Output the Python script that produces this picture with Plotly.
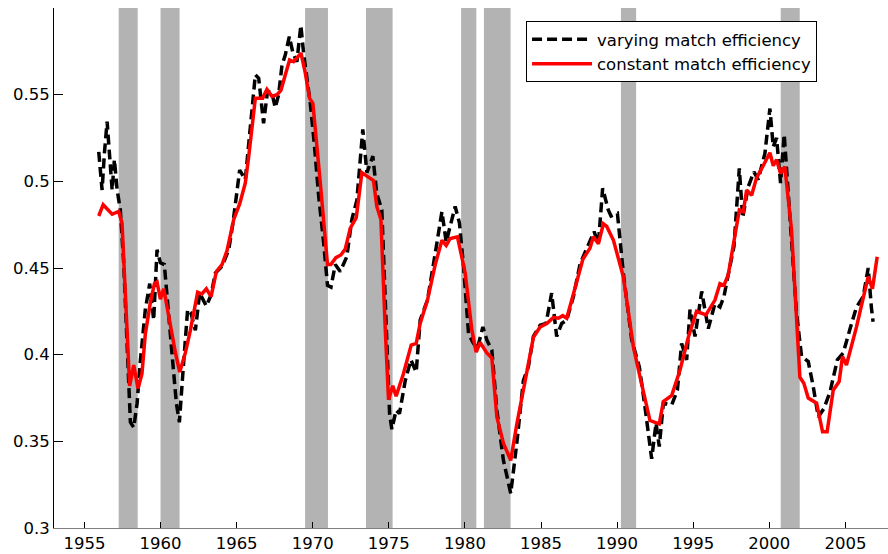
import plotly.graph_objects as go

# Recession periods (start, end) in decimal years
recession_start = [1957.25, 1960.0, 1969.5, 1973.5, 1979.75, 1981.25, 1990.25, 2000.75]
recession_end = [1958.5, 1961.25, 1971.0, 1975.25, 1980.75, 1983.0, 1991.25, 2002.0]

# Varying match efficiency series
vary_year = [1955.94, 1956.16, 1956.31, 1956.49, 1956.66, 1956.82, 1956.97, 1957.15, 1957.36, 1957.58,
             1957.8, 1958.02, 1958.24, 1958.46, 1958.68, 1959.0, 1959.29, 1959.55, 1959.77, 1959.99,
             1960.25, 1960.43, 1960.75, 1961.04, 1961.24, 1961.48, 1961.78, 1962.0, 1962.29, 1962.57,
             1963.01, 1963.32, 1963.6, 1964.04, 1964.48, 1964.76, 1965.2, 1965.57, 1965.9, 1966.23,
             1966.45, 1966.77, 1967.03, 1967.32, 1967.54, 1967.76, 1967.98, 1968.2, 1968.46, 1968.7,
             1968.96, 1969.22, 1969.4, 1969.62, 1969.84, 1970.1, 1970.39, 1970.72, 1970.97, 1971.2,
             1971.48, 1971.81, 1972.24, 1972.57, 1972.9, 1973.29, 1973.56, 1973.95, 1974.21, 1974.54,
             1974.83, 1975.05, 1975.2, 1975.48, 1975.7, 1976.08, 1976.45, 1976.8, 1977.06, 1977.54,
             1978.05, 1978.49, 1978.77, 1979.36, 1979.64, 1979.91, 1980.24, 1980.56, 1980.82, 1981.18,
             1981.44, 1981.77, 1982.1, 1982.53, 1983.01, 1983.41, 1983.84, 1984.17, 1984.5, 1984.94,
             1985.33, 1985.7, 1986.03, 1986.36, 1986.69, 1987.13, 1987.57, 1988.0, 1988.49, 1988.77,
             1989.05, 1989.42, 1989.6, 1990.02, 1990.41, 1990.96, 1991.46, 1991.83, 1992.27, 1992.56,
             1992.77, 1993.04, 1993.59, 1993.96, 1994.24, 1994.57, 1994.79, 1995.12, 1995.56, 1995.99,
             1996.43, 1996.76, 1997.02, 1997.3, 1997.68, 1998.03, 1998.25, 1998.62, 1998.99, 1999.27,
             1999.71, 2000.04, 2000.26, 2000.48, 2000.74, 2000.98, 2001.17, 2001.46, 2001.79, 2002.12,
             2002.56, 2002.89, 2003.22, 2003.59, 2003.99, 2004.47, 2004.86, 2005.34, 2005.73, 2006.17,
             2006.5, 2006.71, 2006.82]
vary_value = [0.517, 0.495, 0.516, 0.5345, 0.514, 0.495, 0.5125, 0.495, 0.4835, 0.453,
              0.4065, 0.361, 0.358, 0.372, 0.397, 0.426, 0.441, 0.420, 0.4605, 0.453,
              0.452, 0.4315, 0.401, 0.372, 0.361, 0.391, 0.426, 0.424, 0.414, 0.4355,
              0.428, 0.4345, 0.447, 0.451, 0.4605, 0.476, 0.5065, 0.501, 0.5335, 0.5615,
              0.5595, 0.5335, 0.552, 0.551, 0.5425, 0.550, 0.567, 0.573, 0.5835, 0.574,
              0.569, 0.590, 0.574, 0.5605, 0.545, 0.522, 0.4915, 0.4645, 0.440, 0.439,
              0.452, 0.448, 0.4565, 0.478, 0.489, 0.530, 0.505, 0.5145, 0.493, 0.4835,
              0.416, 0.366, 0.357, 0.368, 0.366, 0.385, 0.397, 0.390, 0.420, 0.4315,
              0.4585, 0.4825, 0.465, 0.4855, 0.476, 0.451, 0.412, 0.4065, 0.4035, 0.416,
              0.4085, 0.4025, 0.368, 0.339, 0.320, 0.349, 0.385, 0.393, 0.4105, 0.417,
              0.418, 0.4355, 0.4105, 0.418, 0.420, 0.4335, 0.4525, 0.4615, 0.471, 0.464,
              0.496, 0.4835, 0.480, 0.4815, 0.447, 0.4085, 0.393, 0.370, 0.340, 0.3605,
              0.347, 0.372, 0.371, 0.3795, 0.4065, 0.397, 0.426, 0.4105, 0.4365, 0.415,
              0.4295, 0.4275, 0.4335, 0.446, 0.4625, 0.5075, 0.479, 0.497, 0.5055, 0.501,
              0.516, 0.542, 0.520, 0.525, 0.499, 0.527, 0.501, 0.4625, 0.424, 0.399,
              0.396, 0.3815, 0.364, 0.369, 0.3785, 0.397, 0.401, 0.416, 0.4275, 0.4335,
              0.450, 0.427, 0.419]

# Constant match efficiency series
const_year = [1955.94, 1956.23, 1956.82, 1957.25, 1957.47, 1957.76, 1957.97, 1958.24, 1958.52, 1958.78,
              1959.0, 1959.33, 1959.6, 1959.77, 1959.99, 1960.21, 1960.65, 1960.98, 1961.26, 1961.63,
              1961.96, 1962.44, 1962.72, 1963.01, 1963.32, 1963.67, 1964.04, 1964.37, 1964.81, 1965.2,
              1965.57, 1965.79, 1966.23, 1966.71, 1966.99, 1967.32, 1967.65, 1967.91, 1968.2, 1968.48,
              1968.74, 1969.01, 1969.23, 1969.51, 1969.79, 1970.01, 1970.28, 1970.5, 1970.97, 1971.19,
              1971.52, 1971.85, 1972.14, 1972.47, 1972.86, 1973.23, 1973.56, 1973.99, 1974.21, 1974.48,
              1974.76, 1974.98, 1975.26, 1975.48, 1975.96, 1976.47, 1976.8, 1977.06, 1977.54, 1978.05,
              1978.49, 1978.77, 1979.03, 1979.51, 1980.02, 1980.46, 1980.74, 1981.0, 1981.44, 1981.77,
              1982.1, 1982.53, 1983.01, 1983.41, 1983.96, 1984.5, 1984.94, 1985.38, 1985.82, 1986.14,
              1986.43, 1986.69, 1987.13, 1987.75, 1988.22, 1988.44, 1988.77, 1989.1, 1989.32, 1989.76,
              1990.41, 1991.07, 1991.51, 1992.16, 1992.77, 1993.04, 1993.59, 1994.13, 1994.68, 1995.22,
              1995.84, 1996.43, 1996.76, 1997.02, 1997.3, 1997.74, 1998.03, 1998.29, 1998.51, 1998.84,
              1999.16, 1999.6, 2000.04, 2000.26, 2000.48, 2000.74, 2001.02, 2001.46, 2002.01, 2002.27,
              2002.56, 2003.11, 2003.5, 2003.8, 2004.2, 2004.59, 2004.81, 2005.07, 2005.73, 2006.5,
              2006.78, 2007.09]
const_value = [0.480, 0.4865, 0.481, 0.4826, 0.476, 0.416, 0.382, 0.394, 0.3805, 0.389,
               0.412, 0.430, 0.441, 0.442, 0.432, 0.438, 0.416, 0.401, 0.390, 0.401,
               0.414, 0.436, 0.435, 0.438, 0.4335, 0.448, 0.452, 0.460, 0.478, 0.487,
               0.499, 0.514, 0.548, 0.548, 0.553, 0.549, 0.550, 0.5525, 0.5615, 0.570,
               0.569, 0.572, 0.574, 0.5625, 0.548, 0.545, 0.522, 0.499, 0.452, 0.452,
               0.456, 0.4575, 0.461, 0.473, 0.479, 0.505, 0.503, 0.5005, 0.4855, 0.478,
               0.416, 0.374, 0.382, 0.376, 0.389, 0.4055, 0.4065, 0.418, 0.4315, 0.452,
               0.466, 0.463, 0.467, 0.468, 0.447, 0.414, 0.4015, 0.407, 0.401, 0.398,
               0.364, 0.349, 0.339, 0.360, 0.385, 0.410, 0.416, 0.418, 0.4215, 0.421,
               0.4225, 0.421, 0.435, 0.455, 0.4615, 0.468, 0.464, 0.4755, 0.474, 0.466,
               0.445, 0.4045, 0.387, 0.362, 0.360, 0.373, 0.3765, 0.391, 0.410, 0.425,
               0.423, 0.4315, 0.441, 0.440, 0.446, 0.468, 0.4835, 0.4825, 0.495, 0.492,
               0.502, 0.509, 0.5165, 0.509, 0.5125, 0.5045, 0.5085, 0.472, 0.387, 0.3835,
               0.375, 0.372, 0.3555, 0.3555, 0.3795, 0.3845, 0.399, 0.394, 0.416, 0.445,
               0.438, 0.4565]

FONT = "DejaVu Sans, Liberation Sans, Arial, sans-serif"

fig = go.Figure()

fig.add_trace(go.Scatter(
    x=vary_year, y=vary_value, mode="lines",
    name="varying match efficiency",
    line=dict(color="black", width=3.5, dash="10px,5px"),
))
fig.add_trace(go.Scatter(
    x=const_year, y=const_value, mode="lines",
    name="constant match efficiency",
    line=dict(color="#ff0000", width=3.5),
))

# Shaded recession bands
for x0, x1 in zip(recession_start, recession_end):
    fig.add_shape(type="rect", xref="x", yref="paper", x0=x0, x1=x1, y0=0, y1=1,
                  fillcolor="#b3b3b3", line=dict(width=0), layer="below")

fig.update_layout(
    width=888, height=554,
    margin=dict(l=54, r=0, t=8, b=26, pad=0),
    paper_bgcolor="white", plot_bgcolor="white",
    font=dict(family=FONT, size=16.5, color="black"),
    showlegend=True,
    legend=dict(
        x=0.566, y=0.975, xanchor="left", yanchor="top",
        bgcolor="white", bordercolor="black", borderwidth=1,
        font=dict(family=FONT, size=16.5, color="black"),
        itemwidth=60, tracegroupgap=0,
    ),
    xaxis=dict(
        range=[1953.0, 2007.8], tick0=1955, dtick=5,
        ticks="inside", ticklen=6, tickcolor="black", tickwidth=1,
        showline=True, linecolor="#7f7f7f", linewidth=1,
        showgrid=False, zeroline=False,
        tickfont=dict(family=FONT, size=16.5, color="black"),
    ),
    yaxis=dict(
        range=[0.3, 0.6], tick0=0.3, dtick=0.05,
        ticks="inside", ticklen=9, tickcolor="black", tickwidth=1,
        showline=True, linecolor="black", linewidth=1,
        showgrid=False, zeroline=False,
        tickfont=dict(family=FONT, size=16.5, color="black"),
    ),
)

fig.write_html("out.html")
